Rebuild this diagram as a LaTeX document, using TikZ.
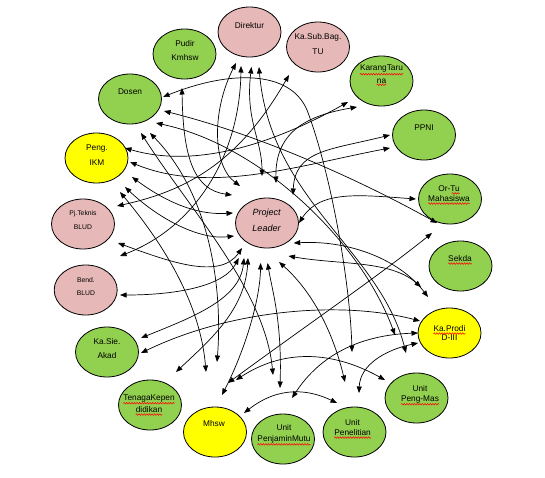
\documentclass[tikz,border=0pt]{standalone}
\usepackage{fontspec}
\setmainfont{Liberation Sans}
\usetikzlibrary{arrows.meta,shapes.geometric,decorations.pathmorphing}
\definecolor{gr}{RGB}{146,208,80}
\definecolor{pk}{RGB}{230,184,183}
\definecolor{yl}{RGB}{255,255,0}
\begin{document}
\begin{tikzpicture}[x=1pt,y=-1pt,
  bub/.style={ellipse,draw=black,line width=0.8pt,minimum width=63pt,minimum height=50pt,inner sep=0pt},
  gb/.style={bub,fill=gr}, pb/.style={bub,fill=pk}, yb/.style={bub,fill=yl},
  txt/.style={inner sep=0pt,font=\fontsize{8.3}{10}\selectfont},
  sm/.style={inner sep=0pt,font=\fontsize{6.8}{8}\selectfont},
  it/.style={inner sep=0pt,font=\fontsize{9}{11}\selectfont\itshape},
  sq/.style={draw=red,line width=0.5pt,decorate,decoration={snake,amplitude=0.8pt,segment length=2.6pt}},
  con/.style={line width=0.7pt,{Triangle[length=6.5pt,width=5pt]}-{Triangle[length=6.5pt,width=5pt]}},
]
\useasboundingbox (0,0) rectangle (545,477);
% bubbles
\node[pb] (dir) at (249.5,32) {};
\node[gb] (pud) at (184.5,54) {};
\node[pb] (ksb) at (318,47) {};
\node[gb] (kt) at (381.5,81) {};
\node[gb] (dos) at (130,99) {};
\node[gb] (ppni) at (424,135) {};
\node[yb] (ikm) at (96.5,158) {};
\node[gb] (ortu) at (450,199) {};
\node[pb] (pjt) at (83,224) {};
\node[pb] (pl) at (267,223) {};
\node[gb] (sek) at (460.5,266) {};
\node[pb] (bend) at (85.7,290) {};
\node[yb] (kp) at (449.5,333) {};
\node[gb] (ksa) at (107,352) {};
\node[gb] (pm) at (416.5,398) {};
\node[gb] (ten) at (150,405) {};
\node[yb] (mhs) at (215,432) {};
\node[gb] (pjm) at (283,439) {};
\node[gb] (pen) at (354.5,432) {};
% labels
\node[txt] (tdir) at (249.5,25.7) {Direktur};
\node[txt] (tpud1) at (185,44) {Pudir};
\node[txt] (tpud2) at (185,58) {Kmhsw};
\node[txt] (tksb1) at (318,37.7) {Ka.Sub.Bag.};
\node[txt] (tksb2) at (318,51.7) {TU};
\node[txt] (tkt1) at (381.5,69) {KarangTaru};
\node[txt] (tkt2) at (381.5,81) {na};
\node[txt] (tdos) at (130,91.7) {Dosen};
\node[txt] (tppni) at (424,128) {PPNI};
\node[txt] (tikm1) at (97,149) {Peng.};
\node[txt] (tikm2) at (97,163) {IKM};
\node[txt] (tortu1) at (449,189) {Or-Tu};
\node[txt] (tortu2) at (449,199) {Mahasiswa};
\node[sm] (tpjt1) at (83,214) {Pj.Teknis};
\node[sm] (tpjt2) at (83,227) {BLUD};
\node[it] (tpl1) at (266.5,213) {Project};
\node[it] (tpl2) at (266.5,228) {Leader};
\node[txt] (tsek) at (460,259) {Sekda};
\node[sm] (tbend1) at (86,280) {Bend.};
\node[sm] (tbend2) at (86,293) {BLUD};
\node[txt] (tkp1) at (449.5,329) {Ka.Prodi};
\node[txt] (tkp2) at (449.5,338) {D-III};
\node[txt] (tksa1) at (107,342) {Ka.Sie.};
\node[txt] (tksa2) at (107,356) {Akad};
\node[txt] (tpm1) at (420,389) {Unit};
\node[txt] (tpm2) at (420,399) {Peng-Mas};
\node[txt] (tten1) at (149,398) {TenagaKepen};
\node[txt] (tten2) at (149,410) {didikan};
\node[txt] (tmhs) at (214,424) {Mhsw};
\node[txt] (tpjm1) at (284,428) {Unit};
\node[txt] (tpjm2) at (284,439) {PenjaminMutu};
\node[txt] (tpen1) at (352.6,423) {Unit};
\node[txt] (tpen2) at (352.6,433) {Penelitian};
% spell-check squiggles
\foreach \t in {tkt1,tkt2,tortu2,tsek,tkp1,tten1,tten2,tpjm2,tpen2,tpm2}
  \draw[sq] ([yshift=-1.3pt]\t.south west) -- ([yshift=-1.3pt]\t.south east);
\draw[sq] ([xshift=-8pt,yshift=-1.3pt]tortu1.south east) -- ([yshift=-1.3pt]tortu1.south east);
% connectors
\foreach \i/\p/\q/\r/\s in {
 1/{236,63}/{212,110}/{212,165}/{240,186},
 2/{241,66}/{240,150}/{200,225}/{120,256},
 3/{251.5,67}/{245,120}/{262,140}/{262,176},
 4/{259,67}/{270,200}/{380,250}/{406,353},
 5/{289,75}/{240,160}/{190,190}/{117,206},
 6/{182,88}/{183,160}/{195,190}/{232,195},
 8/{164,111}/{260,135}/{360,180}/{437,223},
 9/{156,123}/{260,145}/{360,240}/{395,335},
 10/{141,133}/{190,210}/{265,290}/{273,375},
 11/{150,133}/{215,200}/{222,300}/{217,362},
 12/{125,148}/{200,170}/{280,140}/{348,102},
 13/{130,162}/{210,195}/{300,165}/{390,148},
 14/{132,177}/{170,205}/{200,215}/{233,213},
 15/{125,187}/{160,220}/{200,240}/{234,236},
 16/{120,192}/{160,240}/{200,300}/{206,372},
 17/{118,243}/{170,262}/{220,280}/{242,248},
 18/{120,295}/{180,295}/{225,285}/{238.7,258},
 19/{141,338}/{190,318}/{240,300}/{244,258},
 20/{141,353}/{230,310}/{340,300}/{420,321},
 21/{176,372}/{210,340}/{245,310}/{248,258},
 22/{222,395}/{245,350}/{260,300}/{260.6,263},
 23/{228,383}/{300,330}/{380,275}/{432,233},
 24/{236,380}/{290,345}/{340,355}/{385,380},
 25/{244,413}/{280,385}/{310,390}/{337,403},
 26/{280,388}/{282,320}/{272,290}/{267.6,263},
 27/{292,398}/{320,355}/{360,335}/{418,333},
 28/{359,393}/{360,365}/{385,350}/{418,343},
 29/{345,382}/{330,320}/{305,285}/{279,262},
 30/{288.5,256}/{340,265}/{390,260}/{421,287},
 31/{293.7,243}/{350,240}/{400,260}/{428,297},
 32/{299,223}/{320,190}/{360,195}/{416,199},
 33/{276,183}/{275,130}/{310,115}/{357,107},
 34/{293,195}/{295,150}/{330,150}/{390,135}} {
  \coordinate (s\i) at (\p);
  \coordinate (e\i) at (\s);
  \draw[con] (s\i) .. controls (\q) and (\r) .. (e\i);
}
\coordinate (s7) at (163,97);
\coordinate (m7) at (307,110);
\coordinate (e7) at (352,352);
\draw[con] (s7) .. controls (230,70) and (290,70) .. (m7) .. controls (330,170) and (350,280) .. (e7);
\end{tikzpicture}
\end{document}
